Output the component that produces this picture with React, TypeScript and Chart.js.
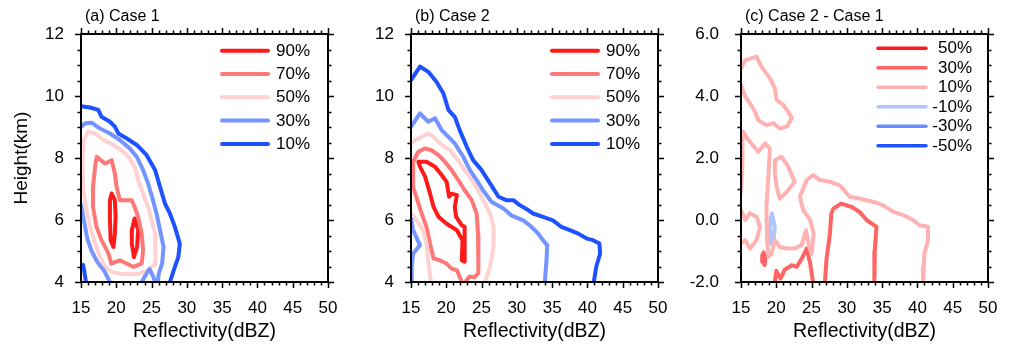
import React, { useEffect, useRef } from "react";
import { Chart, registerables } from "chart.js";
Chart.register(...registerables);

type Pt = [number, number];

// ---------- axis / tick data ----------
const xMin = 15, xMax = 50;
const abYMin = 4, abYMax = 12;
const cYMin = -2, cYMax = 6;

// ---------- colours ----------
const C90 = "#FF1A1A";
const C70 = "#FF7878";
const C50 = "#FFD2D2";
const C30 = "#7494FF";
const C10 = "#1E52FF";
const D50 = "#FF1A1A";
const D30 = "#FF6464";
const D10 = "#FFB2B2";
const DM10 = "#B0C4FF";
const DM30 = "#6A8EFF";
const DM50 = "#1E52FF";

// ---------- panel (a) Case 1 ----------
const a10Main: Pt[] = [[15,9.67],[16.27,9.63],[17.45,9.55],[17.9,9.33],[19.1,9.17],[19.8,9.01],[20.3,8.79],[21.5,8.63],[22.9,8.42],[24.3,8.09],[25.5,7.61],[26.2,7.07],[26.9,6.53],[27.6,6.21],[28.3,5.78],[29.0,5.24],[28.8,4.81],[28.3,4.49],[27.6,4.0]];
const a10Small: Pt[] = [[15.0,4.45],[15.3,4.55],[15.5,4.3],[15.7,4.0]];
const a30Outer: Pt[] = [[15,9.0],[15.6,9.12],[16.5,9.14],[17.7,8.95],[19.1,8.79],[20.5,8.58],[21.9,8.31],[22.9,8.04],[23.8,7.61],[24.5,7.18],[25.2,6.64],[25.7,6.21],[26.2,5.67],[26.7,5.13],[26.5,4.6],[26.0,4.25],[25.9,4.0]];
const a30Inner: Pt[] = [[15,6.5],[15.4,6.0],[15.9,5.4],[16.5,5.0],[17.3,4.65],[18.3,4.35],[19.1,4.0]];
const a30Bump: Pt[] = [[23.6,4.0],[24.1,4.2],[24.7,4.42],[25.2,4.2],[25.5,4.0]];
const a50: Pt[] = [[16.04,8.85],[17.0,8.79],[18.2,8.58],[19.6,8.42],[20.75,8.25],[21.7,8.04],[22.6,7.72],[23.1,7.29],[23.8,6.85],[24.5,6.42],[25.0,5.99],[25.5,5.56],[25.6,5.13],[25.5,4.6],[24.5,4.38],[23.35,4.27],[21.9,4.25],[20.5,4.27],[19.3,4.33],[18.4,4.49],[17.7,4.81],[17.0,5.24],[16.3,5.78],[15.7,6.42],[15.3,7.07],[15.2,7.93],[15.4,8.58],[16.04,8.85]];
const a70: Pt[] = [[17.22,8.04],[18.4,7.82],[19.34,7.93],[19.8,7.5],[20.05,7.07],[20.5,6.64],[22.2,6.64],[22.6,6.42],[23.1,6.1],[23.6,5.56],[23.8,5.02],[23.6,4.59],[22.4,4.49],[21.5,4.59],[20.5,4.7],[19.3,4.59],[18.9,4.92],[17.9,5.35],[17.2,5.78],[16.7,6.42],[16.7,7.07],[17.0,7.72],[17.22,8.04]];
const a90Left: Pt[] = [[19.34,6.85],[19.8,6.64],[19.9,6.1],[19.8,5.56],[19.6,5.13],[19.2,5.35],[19.1,6.0],[19.1,6.64],[19.34,6.85]];
const a90Right: Pt[] = [[22.6,6.05],[23.1,5.67],[22.95,5.13],[22.5,4.8],[22.2,5.24],[22.2,5.67],[22.6,6.05]];

// ---------- panel (b) Case 2 ----------
const b10: Pt[] = [[15,10.51],[16.27,10.95],[17.45,10.78],[18.6,10.46],[19.6,10.08],[20.3,9.55],[21.2,9.33],[21.9,8.9],[22.9,8.36],[23.8,7.93],[25.0,7.61],[26.2,7.18],[27.4,6.75],[28.5,6.64],[29.5,6.64],[30.4,6.48],[31.6,6.32],[32.3,6.21],[33.7,6.1],[35.1,5.99],[36.3,5.78],[37.5,5.67],[38.7,5.56],[39.9,5.4],[40.8,5.35],[41.7,5.24],[41.8,4.92],[41.25,4.49],[40.9,4.0]];
const b30: Pt[] = [[15,9.0],[16.27,9.44],[17.45,9.17],[18.4,9.28],[19.34,8.9],[20.3,8.68],[21.2,8.47],[22.4,8.04],[23.35,7.61],[24.3,7.29],[25.2,6.96],[26.4,6.59],[28.1,6.37],[29.2,6.15],[30.9,5.99],[31.8,5.83],[32.8,5.62],[33.7,5.35],[34.3,5.19],[34.2,4.7],[33.96,4.0]];
const b30Left: Pt[] = [[15,6.05],[15.3,5.67],[16.27,5.19],[15.3,4.92],[15.1,4.49],[15.1,4.0]];
const b50: Pt[] = [[15,8.47],[15.6,8.58],[16.5,8.68],[17.45,8.79],[18.2,8.68],[19.1,8.47],[20.5,8.25],[21.5,7.98],[22.6,7.61],[23.6,7.29],[24.5,6.96],[25.5,6.53],[26.2,6.21],[26.7,5.78],[26.7,5.13],[26.2,4.49],[25.5,4.0]];
const b50Inner: Pt[] = [[15,6.21],[15.8,5.99],[16.7,5.67],[17.2,5.24],[17.45,4.7],[17.7,4.16],[17.9,4.0]];
const b70: Pt[] = [[22.2,4.0],[21.9,4.16],[21.5,4.38],[20.75,4.43],[20.05,4.59],[19.1,4.7],[18.2,4.76],[17.7,5.24],[17.2,5.78],[16.5,6.21],[15.9,6.64],[15.3,7.07],[15.3,7.88],[16.04,8.2],[17.0,8.31],[17.9,8.25],[18.9,8.09],[19.8,7.88],[20.75,7.61],[21.7,7.29],[22.6,6.96],[23.6,6.64],[24.3,6.21],[24.5,5.56],[24.6,4.92],[24.5,4.3],[24.0,4.15],[23.3,4.18],[22.7,4.0]];
const b90: Pt[] = [[16.04,7.88],[17.2,7.88],[18.4,7.72],[19.34,7.45],[20.05,7.23],[20.4,6.75],[20.75,6.85],[21.5,6.8],[21.2,6.42],[21.4,6.1],[22.2,5.83],[22.6,5.78],[22.6,5.24],[22.6,4.65],[22.2,4.7],[22.3,5.35],[21.5,5.67],[20.05,5.88],[18.9,6.1],[18.2,6.42],[17.7,6.85],[17.0,7.4],[16.27,7.72],[16.04,7.88]];

// ---------- panel (c) Case 2 - Case 1 ----------
const c10Top: Pt[] = [[15,4.89],[15.6,5.16],[17.2,5.27],[17.9,4.95],[19.1,4.57],[19.8,4.25],[20.05,3.87],[21.0,3.71],[21.7,3.49],[22.2,3.28],[21.5,3.01],[20.5,2.95],[19.6,3.12],[18.6,3.06],[17.45,3.22],[17.0,3.49],[16.27,3.76],[15.6,3.98],[15,4.35]];
const c10Long: Pt[] = [[15,0.91],[15.2,1.72],[15.2,2.79],[15.3,2.85],[16.04,2.58],[17.45,2.2],[18.4,2.47],[19.1,2.3],[18.9,1.5],[18.6,0.42],[18.7,-0.65],[18.9,-1.19],[19.34,-1.08],[19.8,-0.65],[20.5,-0.87],[21.5,-0.92],[22.6,-0.92],[23.6,-0.81],[24.2,-0.33],[24.6,-0.8],[25.0,-1.1],[25.3,-0.44],[24.8,0.0],[23.8,0.32],[23.35,0.75],[24.3,1.29],[25.2,1.45],[26.2,1.29],[27.6,1.23],[29.0,1.12],[30.4,0.75],[31.8,0.69],[33.7,0.59],[35.1,0.48],[36.6,0.26],[38.0,0.16],[39.4,0.0],[40.3,-0.17],[41.5,-0.22],[41.5,-0.65],[41.0,-1.08],[40.9,-1.51],[40.8,-2.0]];
const c10LeftLow: Pt[] = [[15,0.32],[15.6,0.0],[16.27,0.22],[17.2,0.1],[17.7,-0.22],[17.2,-0.65],[16.27,-0.92],[15.6,-0.65],[15,-0.76]];
const c10Small: Pt[] = [[19.8,1.93],[20.75,2.04],[21.7,1.72],[22.6,1.23],[21.5,0.91],[20.5,0.69],[20.05,1.07],[19.8,1.5],[19.8,1.93]];
const c30Right: Pt[] = [[26.9,-2.0],[27.1,-1.3],[27.6,-0.44],[27.8,0.21],[28.1,0.37],[29.2,0.53],[30.7,0.42],[31.8,0.26],[32.8,0.0],[34.2,-0.22],[33.96,-0.98],[33.9,-2.0]];
const c30Bottom: Pt[] = [[19.8,-2.0],[20.0,-1.64],[20.6,-1.89],[21.2,-1.6],[22.2,-1.46],[22.9,-1.51],[23.6,-1.25],[24.3,-0.92],[24.8,-1.4],[25.2,-2.0]];
const c30Dot: Pt[] = [[18.2,-1.05],[18.45,-1.2],[18.35,-1.45],[18.1,-1.35],[18.0,-1.15],[18.2,-1.05]];
const cM10: Pt[] = [[19.4,0.21],[19.8,-0.22],[19.55,-0.7],[19.25,-0.76],[19.1,-0.22],[19.25,0.1],[19.4,0.21]];

// ---------- legends ----------
const abLegendLabels = ["90%", "70%", "50%", "30%", "10%"];
const abLegendColors = [C90, C70, C50, C30, C10];
const cLegendLabels = ["50%", "30%", "10%", "-10%", "-30%", "-50%"];
const cLegendColors = [D50, D30, D10, DM10, DM30, DM50];

const FONT = "'Liberation Sans', Arial, Helvetica, sans-serif";

type Line = { pts: Pt[]; color: string };

type PanelCfg = {
  title: string;
  lines: Line[];
  yMin: number;
  yMax: number;
  yFixed: number;
  yTitle?: string;
  yTickPad: number;
  legend: { labels: string[]; colors: string[]; x1: number; x2: number; tx: number; y0: number; dy: number; align: CanvasTextAlign; lw: number };
};

const panels: PanelCfg[] = [
  {
    title: "(a) Case 1",
    lines: [
      { pts: a10Main, color: C10 }, { pts: a10Small, color: C10 },
      { pts: a30Outer, color: C30 }, { pts: a30Inner, color: C30 }, { pts: a30Bump, color: C30 },
      { pts: a50, color: C50 }, { pts: a70, color: C70 },
      { pts: a90Left, color: C90 }, { pts: a90Right, color: C90 },
    ],
    yMin: abYMin, yMax: abYMax, yFixed: 0, yTitle: "Height(km)", yTickPad: 17,
    legend: { labels: abLegendLabels, colors: abLegendColors, x1: 222, x2: 268, tx: 276, y0: 50.7, dy: 23.3, align: "left", lw: 4 },
  },
  {
    title: "(b) Case 2",
    lines: [
      { pts: b10, color: C10 },
      { pts: b30, color: C30 }, { pts: b30Left, color: C30 },
      { pts: b50, color: C50 }, { pts: b50Inner, color: C50 },
      { pts: b70, color: C70 }, { pts: b90, color: C90 },
    ],
    yMin: abYMin, yMax: abYMax, yFixed: 0, yTickPad: 17,
    legend: { labels: abLegendLabels, colors: abLegendColors, x1: 222, x2: 268, tx: 276, y0: 50.7, dy: 23.3, align: "left", lw: 4 },
  },
  {
    title: "(c) Case 2 - Case 1",
    lines: [
      { pts: c10Top, color: D10 }, { pts: c10Long, color: D10 }, { pts: c10LeftLow, color: D10 }, { pts: c10Small, color: D10 },
      { pts: cM10, color: DM10 },
      { pts: c30Right, color: D30 }, { pts: c30Bottom, color: D30 }, { pts: c30Dot, color: D30 },
    ],
    yMin: cYMin, yMax: cYMax, yFixed: 1, yTickPad: 22,
    legend: { labels: cLegendLabels, colors: cLegendColors, x1: 218, x2: 266, tx: 312, y0: 48.3, dy: 19.5, align: "right", lw: 3.5 },
  },
];

function makeFramePlugin(cfg: PanelCfg) {
  return {
    id: "ncl-frame",
    afterDraw(chart: any) {
      const ctx: CanvasRenderingContext2D = chart.ctx;
      const xs = chart.scales.x;
      const ys = chart.scales.y;
      const { left, right, top, bottom } = chart.chartArea;
      ctx.save();
      ctx.strokeStyle = "#000";
      // ticks
      ctx.lineWidth = 1.5;
      ctx.beginPath();
      for (let v = xMin; v <= xMax + 1e-6; v += 1) {
        const px = Math.round(xs.getPixelForValue(v)) + 0.5;
        const len = v % 5 === 0 ? 6 : 3.5;
        ctx.moveTo(px, bottom); ctx.lineTo(px, bottom + len);
        ctx.moveTo(px, top); ctx.lineTo(px, top - len);
      }
      const steps = Math.round((cfg.yMax - cfg.yMin) / 0.5);
      for (let i = 0; i <= steps; i++) {
        const v = cfg.yMin + i * 0.5;
        const py = Math.round(ys.getPixelForValue(v)) + 0.5;
        const len = i % 4 === 0 ? 6 : 3.5;
        ctx.moveTo(left, py); ctx.lineTo(left - len, py);
        ctx.moveTo(right, py); ctx.lineTo(right + len, py);
      }
      ctx.stroke();
      // frame
      ctx.lineWidth = 2;
      ctx.strokeRect(left, top, right - left, bottom - top);
      // title
      ctx.fillStyle = "#000";
      ctx.font = `16px ${FONT}`;
      ctx.textAlign = "left";
      ctx.textBaseline = "middle";
      ctx.fillText(cfg.title, 85, 17);
      // legend
      const lg = cfg.legend;
      ctx.lineCap = "round";
      lg.labels.forEach((lab, i) => {
        const y = lg.y0 + i * lg.dy;
        ctx.strokeStyle = lg.colors[i];
        ctx.lineWidth = lg.lw;
        ctx.beginPath();
        ctx.moveTo(lg.x1, y); ctx.lineTo(lg.x2, y);
        ctx.stroke();
        ctx.fillStyle = "#000";
        ctx.font = `17px ${FONT}`;
        ctx.textAlign = lg.align;
        ctx.textBaseline = "middle";
        ctx.fillText(lab, lg.tx, y + 0.5);
      });
      ctx.restore();
    },
  };
}

function Panel({ cfg, left }: { cfg: PanelCfg; left: number }) {
  const ref = useRef<HTMLCanvasElement>(null);
  useEffect(() => {
    if (!ref.current) return;
    const datasets = cfg.lines.map((l) => ({
      data: l.pts.map(([x, y]) => ({ x, y })),
      showLine: true,
      borderColor: l.color,
      backgroundColor: l.color,
      borderWidth: 4,
      pointRadius: 0,
      pointHoverRadius: 0,
      fill: false,
      tension: 0,
      borderJoinStyle: "round" as const,
      borderCapStyle: "round" as const,
    }));
    const chart = new Chart(ref.current, {
      type: "scatter",
      data: { datasets },
      options: {
        animation: false,
        responsive: false,
        devicePixelRatio: 1,
        events: [],
        layout: { padding: { top: 34, right: 17, left: 0, bottom: 0 }, autoPadding: false },
        plugins: { legend: { display: false }, tooltip: { enabled: false }, title: { display: false } },
        scales: {
          x: {
            type: "linear",
            min: xMin,
            max: xMax,
            border: { display: false },
            grid: { display: false, drawTicks: false },
            ticks: {
              stepSize: 5,
              autoSkip: false,
              maxRotation: 0,
              padding: 16,
              color: "#000",
              font: { family: FONT, size: 17 },
            },
            title: {
              display: true,
              text: "Reflectivity(dBZ)",
              color: "#000",
              font: { family: FONT, size: 19.5 },
              padding: { top: 0, bottom: 4 },
            },
            afterFit: (s: any) => { s.height = 65; s.paddingLeft = 0; s.paddingRight = 0; },
          },
          y: {
            type: "linear",
            min: cfg.yMin,
            max: cfg.yMax,
            border: { display: false },
            grid: { display: false, drawTicks: false },
            ticks: {
              stepSize: 2,
              autoSkip: false,
              padding: cfg.yTickPad,
              color: "#000",
              font: { family: FONT, size: 17 },
              callback: (v: any) => Number(v).toFixed(cfg.yFixed),
            },
            title: {
              display: !!cfg.yTitle,
              text: cfg.yTitle || "",
              color: "#000",
              font: { family: FONT, size: 19 },
              padding: { top: 10, bottom: 0 },
            },
            afterFit: (s: any) => { s.width = 81; s.paddingTop = 0; s.paddingBottom = 0; },
          },
        },
      },
      plugins: [makeFramePlugin(cfg)],
    } as any);
    return () => chart.destroy();
  }, [cfg]);
  return (
    <canvas
      ref={ref}
      width={345}
      height={347}
      style={{ position: "absolute", left, top: 0, width: 345, height: 347 }}
    />
  );
}

export default function App() {
  return (
    <div style={{ position: "fixed", left: 0, top: 0, width: 1010, height: 347, background: "#fff", overflow: "hidden" }}>
      {panels.map((p, i) => (
        <Panel key={i} cfg={p} left={i * 330} />
      ))}
    </div>
  );
}
